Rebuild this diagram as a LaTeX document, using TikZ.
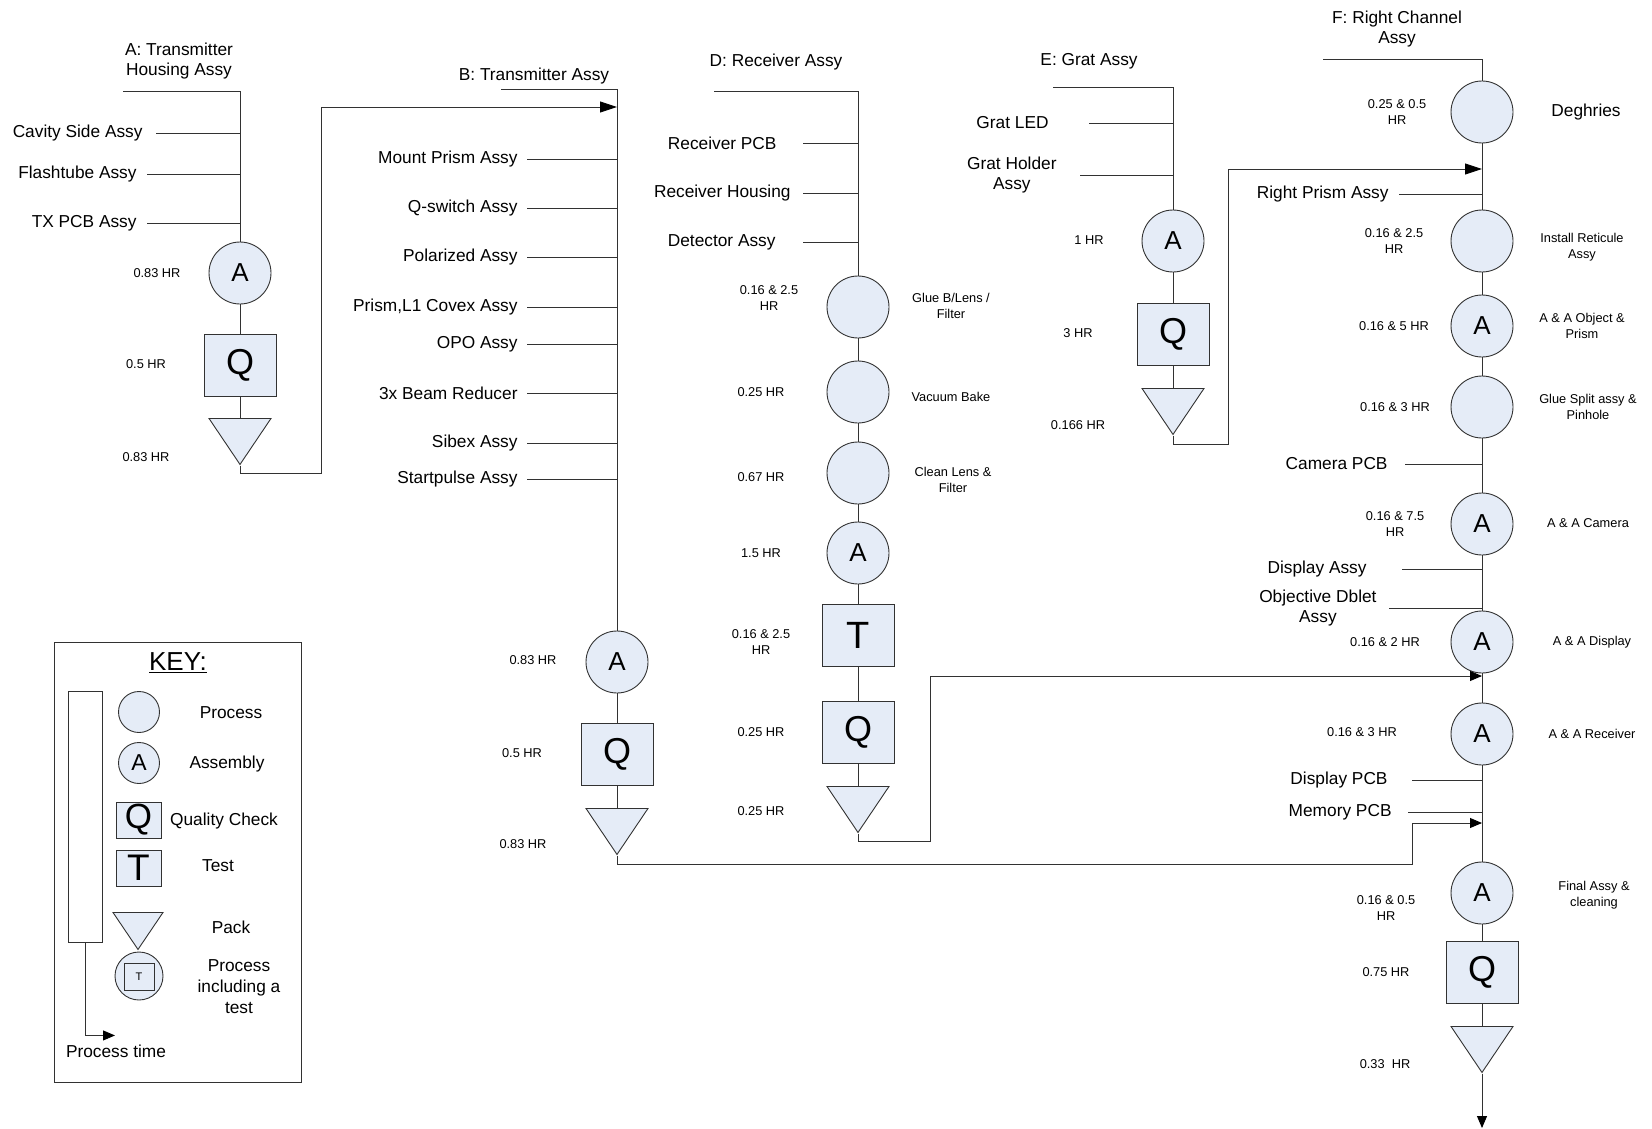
\documentclass[tikz,border=0pt]{standalone}
\usepackage{fontspec}
\setmainfont{Liberation Sans}
\usepackage{tikz}
\usetikzlibrary{
    arrows.meta,
    shapes.geometric,
    calc
}
\definecolor{shapefill}{RGB}{229,236,247}
\definecolor{linegray}{RGB}{50,50,50}

\begin{document}
\begin{tikzpicture}[
        x=1pt, y=-1pt, line width=0.9pt,
        proc/.style={circle, draw=linegray, fill=shapefill, minimum size=62pt, inner sep=0pt,
                     font=\fontsize{26}{26}\selectfont},
        qbox/.style={rectangle, draw=linegray, fill=shapefill, minimum width=72pt, minimum height=62pt,
                     inner sep=0pt, font=\fontsize{36}{36}\selectfont},
        pack/.style={isosceles triangle, isosceles triangle stretches, shape border rotate=270,
                     draw=linegray, fill=shapefill, minimum width=62pt, minimum height=46pt,
                     inner sep=0pt, anchor=lower side},
        inlbl/.style={font=\fontsize{17.3}{20.5}\selectfont, anchor=east, inner xsep=#1,
                      inner ysep=1pt, align=center},
        inlbl/.default=10pt,
        ttl/.style={font=\fontsize{17.3}{20.5}\selectfont, align=center},
        hrs/.style={font=\fontsize{12.8}{16}\selectfont, align=center},
        oplbl/.style={font=\fontsize{12.8}{16}\selectfont, align=center},
        conn/.style={draw=linegray},
        arr/.style={-{Triangle[length=17pt, width=11pt, color=black]}},
        arrs/.style={-{Triangle[length=12pt, width=10pt, color=black]}},
    ]
        \useasboundingbox (0,0) rectangle (1652,1129);

        % A: Transmitter Housing Assy
        \node[ttl] (aTitle) at (179,61) {A: Transmitter\\Housing Assy};
        \coordinate (aBarL) at (123,91);
        \coordinate (aTop) at (240,91);
        \node[inlbl=13pt] (aIn1) at (156,133) {Cavity Side Assy};
        \node[inlbl] (aIn2) at (147,174) {Flashtube Assy};
        \node[inlbl] (aIn3) at (147,223) {TX PCB Assy};
        \node[proc] (aAsm) at (240,273) {A};
        \node[qbox] (aQc) at (240,365) {Q};
        \node[pack] (aPack) at (240,418) {};
        \node[hrs] (aT1) at (157,273) {0.83 HR};
        \node[hrs] (aT2) at (146,364) {0.5 HR};
        \node[hrs] (aT3) at (146,457) {0.83 HR};

        % B: Transmitter Assy
        \node[ttl] (bTitle) at (534,76) {B: Transmitter Assy};
        \coordinate (bBarL) at (501,89);
        \coordinate (bTop) at (617,89);
        \foreach \y/\t [count=\i] in {159/Mount Prism Assy, 208/Q-switch Assy, 257/Polarized Assy,
                307/{Prism,L1 Covex Assy}, 344/OPO Assy, 393/3x Beam Reducer, 443/Sibex Assy,
                479/Startpulse Assy}
            \node[inlbl=9pt] (bIn\i) at (527,\y) {\t};
        \node[proc] (bAsm) at (617,662) {A};
        \node[qbox] (bQc) at (617,754) {Q};
        \node[pack] (bPack) at (617,808) {};
        \node[hrs] (bT1) at (533,660) {0.83 HR};
        \node[hrs] (bT2) at (522,753) {0.5 HR};
        \node[hrs] (bT3) at (523,844) {0.83 HR};

        % D: Receiver Assy
        \node[ttl] (dTitle) at (776,62) {D: Receiver Assy};
        \coordinate (dBarL) at (714,91);
        \coordinate (dTop) at (858,91);
        \foreach \y/\t/\s [count=\i] in {143/Receiver PCB/26pt, 193/Receiver Housing/12pt,
                242/Detector Assy/27pt}
            \node[inlbl=\s] (dIn\i) at (803,\y) {\t};
        \node[proc] (dProc1) at (858,307) {};
        \node[proc] (dProc2) at (858,392) {};
        \node[proc] (dProc3) at (858,473) {};
        \node[proc] (dAsm) at (858,553) {A};
        \node[qbox, font=\fontsize{38}{38}\selectfont] (dTest) at (858,635) {T};
        \node[qbox] (dQc) at (858,732) {Q};
        \node[pack] (dPack) at (858,786) {};
        \node[hrs] (dT1) at (769,298) {0.16 \& 2.5\\HR};
        \node[hrs] (dT2) at (761,392) {0.25 HR};
        \node[hrs] (dT3) at (761,477) {0.67 HR};
        \node[hrs] (dT4) at (761,553) {1.5 HR};
        \node[hrs] (dT5) at (761,642) {0.16 \& 2.5\\HR};
        \node[hrs] (dT6) at (761,732) {0.25 HR};
        \node[hrs] (dT7) at (761,811) {0.25 HR};
        \node[oplbl] (dOp1) at (951,306) {Glue B/Lens /\\Filter};
        \node[oplbl] (dOp2) at (951,397) {Vacuum Bake};
        \node[oplbl] (dOp3) at (953,480) {Clean Lens \&\\Filter};

        % E: Grat Assy
        \node[ttl] (eTitle) at (1089,61) {E: Grat Assy};
        \coordinate (eBarL) at (1053,87);
        \coordinate (eTop) at (1173,87);
        \node[inlbl=40pt] (eIn1) at (1089,123) {Grat LED};
        \node[inlbl=23pt] (eIn2) at (1080,175) {Grat Holder\\Assy};
        \node[proc] (eAsm) at (1173,241) {A};
        \node[qbox] (eQc) at (1173,334) {Q};
        \node[pack] (ePack) at (1173,388) {};
        \node[hrs] (eT1) at (1089,240) {1 HR};
        \node[hrs] (eT2) at (1078,333) {3 HR};
        \node[hrs] (eT3) at (1078,425) {0.166 HR};

        % F: Right Channel Assy
        \node[ttl] (fTitle) at (1397,29) {F: Right Channel\\Assy};
        \coordinate (fBarL) at (1323,59);
        \coordinate (fTop) at (1482,59);
        \node[proc] (fProc1) at (1482,112) {};
        \node[proc] (fProc2) at (1482,241) {};
        \node[proc] (fAsm1) at (1482,326) {A};
        \node[proc] (fProc3) at (1482,407) {};
        \node[proc] (fAsm2) at (1482,524) {A};
        \node[proc] (fAsm3) at (1482,642) {A};
        \node[proc] (fAsm4) at (1482,734) {A};
        \node[proc] (fAsm5) at (1482,893) {A};
        \node[qbox] (fQc) at (1482,972) {Q};
        \node[pack] (fPack) at (1482,1026) {};
        \coordinate (fOut) at (1482,1128);
        \node[inlbl] (fIn1) at (1399,194) {Right Prism Assy};
        \node[inlbl=17pt] (fIn2) at (1405,464) {Camera PCB};
        \node[inlbl=35pt] (fIn3) at (1402,569) {Display Assy};
        \node[inlbl=12pt] (fIn4) at (1389,608) {Objective Dblet\\Assy};
        \node[inlbl=24pt] (fIn5) at (1412,780) {Display PCB};
        \node[inlbl=16pt] (fIn6) at (1408,812) {Memory PCB};
        \node[hrs] (fT1) at (1397,112) {0.25 \& 0.5\\HR};
        \node[hrs] (fT2) at (1394,241) {0.16 \& 2.5\\HR};
        \node[hrs] (fT3) at (1394,326) {0.16 \& 5 HR};
        \node[hrs] (fT4) at (1395,407) {0.16 \& 3 HR};
        \node[hrs] (fT5) at (1395,524) {0.16 \& 7.5\\HR};
        \node[hrs] (fT6) at (1385,642) {0.16 \& 2 HR};
        \node[hrs] (fT7) at (1362,732) {0.16 \& 3 HR};
        \node[hrs] (fT8) at (1386,908) {0.16 \& 0.5\\HR};
        \node[hrs] (fT9) at (1386,972) {0.75 HR};
        \node[hrs] (fT10) at (1385,1064) {0.33\ \ HR};
        \node[ttl] (fOp1) at (1586,112) {Deghries};
        \node[oplbl] (fOp2) at (1582,247) {Install Reticule\\Assy};
        \node[oplbl] (fOp3) at (1582,326) {A \& A Object \&\\Prism};
        \node[oplbl] (fOp4) at (1588,407) {Glue Split assy \&\\Pinhole};
        \node[oplbl] (fOp5) at (1588,523) {A \& A Camera};
        \node[oplbl] (fOp6) at (1592,642) {A \& A Display};
        \node[oplbl] (fOp7) at (1592,734) {A \& A Receiver};
        \node[oplbl] (fOp8) at (1594,895) {Final Assy \&\\cleaning};

        % Key
        \node[draw=linegray, minimum width=247pt, minimum height=440pt] (key) at (177.5,862) {};
        \node[font=\fontsize{26}{26}\selectfont] (keyTitle) at (178,663) {\underline{KEY:}};
        \node[draw=linegray, minimum width=34pt, minimum height=251pt] (keyBar) at (85,816.5) {};
        \node[proc, minimum size=41pt] (keyProc) at (139,712) {};
        \node[proc, minimum size=41pt, font=\fontsize{23}{23}\selectfont] (keyAsm) at (139,763) {A};
        \node[qbox, minimum width=45pt, minimum height=36pt, font=\fontsize{35}{35}\selectfont] (keyQc) at (138.5,820) {Q};
        \node[qbox, minimum width=45pt, minimum height=36pt, font=\fontsize{37}{37}\selectfont] (keyTest) at (138.5,868) {T};
        \node[pack, minimum width=50pt, minimum height=37pt] (keyPack) at (138,912) {};
        \node[proc, minimum size=48pt] (keyPit) at (139,976) {};
        \node[qbox, minimum width=30pt, minimum height=27pt, font=\fontsize{11}{11}\selectfont] (keyPitT) at (139,977) {T};
        \node[ttl] (keyL1) at (231,713) {Process};
        \node[ttl] (keyL2) at (227,764) {Assembly};
        \node[ttl] (keyL3) at (224,821) {Quality Check};
        \node[ttl] (keyL4) at (218,866) {Test};
        \node[ttl] (keyL5) at (231,927) {Pack};
        \node[ttl, font=\fontsize{17.3}{21}\selectfont] (keyL6) at (239,987) {Process\\including a\\test};
        \node[ttl] (keyL7) at (116,1051) {Process time};

        % Trunks and inputs
        \draw[conn] (aBarL) -- (aTop) -- (aAsm.north);
        \foreach \i in {1,2,3}
            \draw[conn] (aIn\i.east) -- (aIn\i.east -| aTop);
        \draw[conn] (aAsm.south) -- (aQc.north);
        \draw[conn] (aQc.south) -- (aPack.lower side);

        \draw[conn] (bBarL) -- (bTop) -- (bAsm.north);
        \foreach \i in {1,...,8}
            \draw[conn] (bIn\i.east) -- (bIn\i.east -| bTop);
        \draw[conn] (bAsm.south) -- (bQc.north);
        \draw[conn] (bQc.south) -- (bPack.lower side);

        \draw[conn] (dBarL) -- (dTop) -- (dProc1.north);
        \foreach \i in {1,2,3}
            \draw[conn] (dIn\i.east) -- (dIn\i.east -| dTop);
        \foreach \u/\v in {dProc1/dProc2, dProc2/dProc3, dProc3/dAsm, dAsm/dTest, dTest/dQc}
            \draw[conn] (\u.south) -- (\v.north);
        \draw[conn] (dQc.south) -- (dPack.lower side);

        \draw[conn] (eBarL) -- (eTop) -- (eAsm.north);
        \foreach \i in {1,2}
            \draw[conn] (eIn\i.east) -- (eIn\i.east -| eTop);
        \draw[conn] (eAsm.south) -- (eQc.north);
        \draw[conn] (eQc.south) -- (ePack.lower side);

        \draw[conn] (fBarL) -- (fTop) -- (fProc1.north);
        \foreach \i in {1,...,6}
            \draw[conn] (fIn\i.east) -- (fIn\i.east -| fTop);
        \foreach \u/\v in {fProc1/fProc2, fProc2/fAsm1, fAsm1/fProc3, fProc3/fAsm2, fAsm2/fAsm3,
                fAsm3/fAsm4, fAsm4/fAsm5, fAsm5/fQc}
            \draw[conn] (\u.south) -- (\v.north);
        \draw[conn] (fQc.south) -- (fPack.lower side);
        \draw[conn, arrs] (fPack.apex) -- (fOut);

        % Arrows between sub-assemblies
        \coordinate (abTurn) at (321,107);
        \coordinate (efTurn) at (1228,169);
        \coordinate (dfTurn) at (930,676);
        \coordinate (bfTurn) at (1412,823);
        \draw[conn, arr] (aPack.apex) -- ++(0,8) -| (abTurn) -- (abTurn -| bTop);
        \draw[conn, arr] (ePack.apex) -- ++(0,9) -| (efTurn) -- (efTurn -| fTop);
        \draw[conn, arrs] (dPack.apex) -- ++(0,8) -| (dfTurn) -- (dfTurn -| fTop);
        \draw[conn, arrs] (bPack.apex) -- ++(0,9) -| (bfTurn) -- (bfTurn -| fTop);
        \draw[conn, arrs] (keyBar.south) -- ++(0,93) -- ++(30,0);
    \end{tikzpicture}
\end{document}
